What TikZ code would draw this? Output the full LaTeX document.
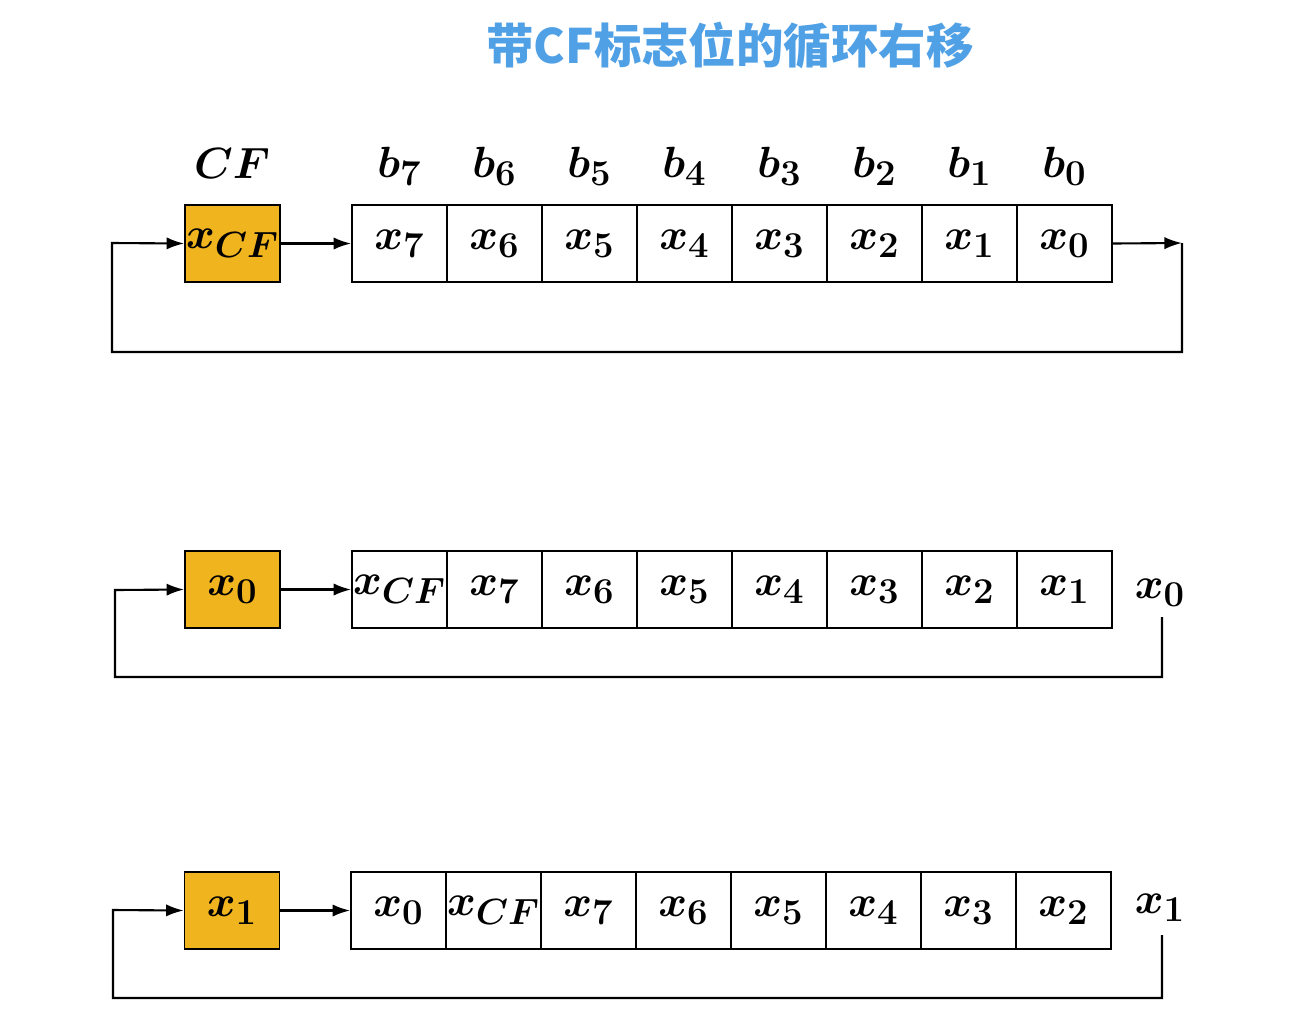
\documentclass[tikz,border=0pt]{standalone}
\usepackage{fontspec}
\usepackage{amsmath,bm}
\newfontfamily\cjk{Noto Sans CJK SC}
\definecolor{orng}{RGB}{240,180,30}
\definecolor{ttl}{RGB}{80,160,230}
\usetikzlibrary{arrows.meta}
\begin{document}
\begin{tikzpicture}[x=0.02cm,y=-0.02cm,
  cell/.style={draw,line width=1pt,minimum width=1.9cm,minimum height=1.54cm,inner sep=0pt,font=\fontsize{30}{36}\selectfont\boldmath},
  cfcell/.style={cell,fill=orng},
  lab/.style={inner sep=0pt,font=\fontsize{30}{36}\selectfont\boldmath},
  wire/.style={line width=1.2pt},
  arr/.style={wire,-{Latex[length=10pt,width=7pt]}}]
\useasboundingbox (0,0) rectangle (1305,1035);
\node[font=\cjk\bfseries\fontsize{27}{32}\selectfont,text=ttl] (title) at (730,45) {带CF标志位的循环右移};
% row 1
\node[lab] (cflab) at (232,163) {$CF$};
\node[cfcell] (c1) at (232.5,243.5) {$x_{CF}$};
\foreach \i/\v in {0/7,1/6,2/5,3/4,4/3,5/2,6/1,7/0}{
  \node[cell] (r1\i) at ({399.5+95*\i},243.5) {$x_{\v}$};
  \node[lab] (b\i) at ({399.5+95*\i},166) {$b_{\v}$};
}
\coordinate (e1) at (1182,243);
\coordinate (l1) at (112,243);
\draw[arr] (c1.east) -- (r10.west);
\draw[arr] (r17.east) -- (e1);
\draw[arr] (e1) -- (1182,352) -| (l1) -- (c1.west);
% row 2
\node[cfcell] (c2) at (232.5,589.5) {$x_0$};
\foreach \i/\v in {0/{CF},1/7,2/6,3/5,4/4,5/3,6/2,7/1}{
  \node[cell] (r2\i) at ({399.5+95*\i},589.5) {$x_{\v}$};
}
\node[lab] (o2) at (1160,593) {$x_0$};
\coordinate (l2) at (115,590);
\draw[arr] (c2.east) -- (r20.west);
\draw[arr] (1162,617) -- (1162,677) -| (l2) -- (c2.west);
% row 3
\node[cfcell] (c3) at (232,910.5) {$x_1$};
\foreach \i/\v in {0/0,1/{CF},2/7,3/6,4/5,5/4,6/3,7/2}{
  \node[cell] (r3\i) at ({398.5+95*\i},910.5) {$x_{\v}$};
}
\node[lab] (o3) at (1160,908) {$x_1$};
\coordinate (l3) at (113,910);
\draw[arr] (c3.east) -- (r30.west);
\draw[arr] (1162,935) -- (1162,998) -| (l3) -- (c3.west);
\end{tikzpicture}
\end{document}
